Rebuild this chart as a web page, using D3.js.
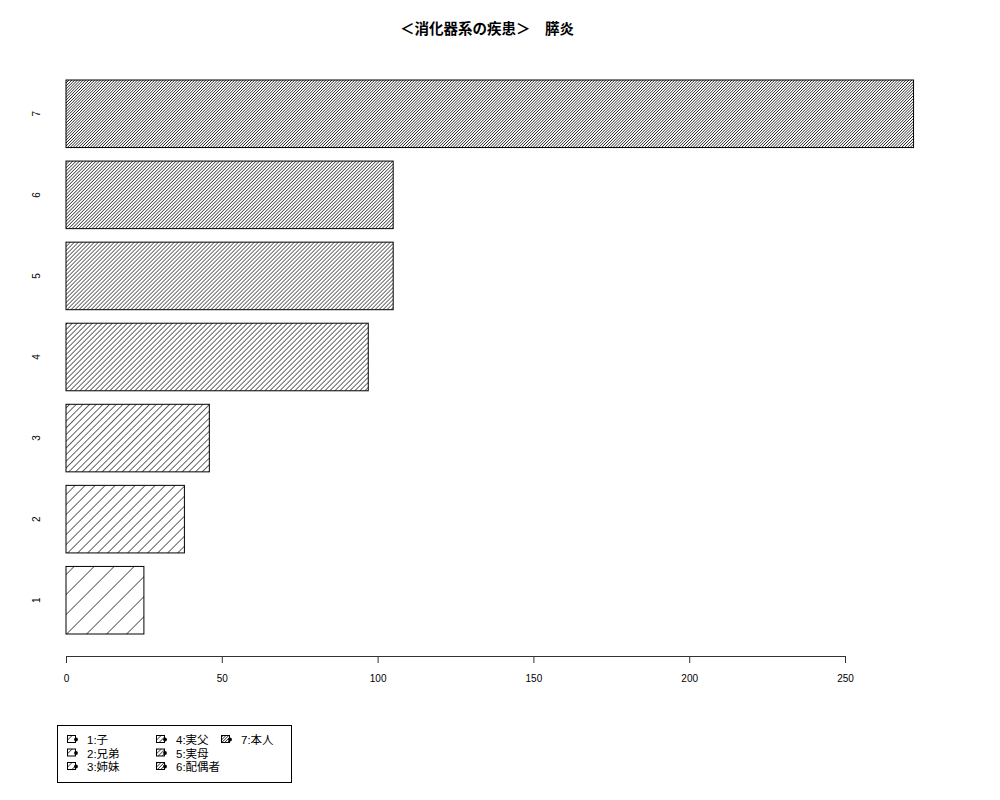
<!DOCTYPE html>
<html lang="ja">
  <head>
    <meta charset="utf-8">
    <script src="https://d3js.org/d3.v7.min.js"></script>
    <style>
      body { margin: 0; background: #fff; }
      .axis text { font: 10px "Liberation Sans", Arial, sans-serif; }
      .title { font: bold 14.5px "Noto Sans CJK JP", sans-serif; }
      .legend text { font: 11.5px "Liberation Sans", "Noto Sans CJK JP", sans-serif; }
    </style>
    <title></title>
  </head>
  <body>
    <svg id="chart" width="1000" height="800"></svg>
  </body>
</html>

<script>
    // data
    const categories = ["1", "2", "3", "4", "5", "6", "7"];
    const values = [25, 38, 46, 97, 105, 105, 272];
    const densities = [5, 10, 15, 20, 25, 30, 35];   // hatch lines per inch, as in R
    const legendLabels = ["1:子", "2:兄弟", "3:姉妹", "4:実父", "5:実母", "6:配偶者", "7:本人"];
    const xTicks = [0, 50, 100, 150, 200, 250];
    const titleText = "＜消化器系の疾患＞　膵炎";

    const svg = d3.select("#chart");

    const x = d3.scaleLinear().domain([0, 250]).range([66, 845]);
    const y = d3.scaleBand()
        .domain(categories.slice().reverse())
        .range([80, 634])
        .paddingInner(1 / 6)
        .paddingOuter(0);

    // hatch patterns, one per density
    const defs = svg.append("defs");
    densities.forEach((d, i) => {
        const p = 100 / d / Math.SQRT2;
        const pat = defs.append("pattern")
            .attr("id", "hatch" + i)
            .attr("patternUnits", "userSpaceOnUse")
            .attr("width", p)
            .attr("height", p)
            .attr("patternTransform", "rotate(45)");
        pat.append("line")
            .attr("x1", 0).attr("y1", -1)
            .attr("x2", 0).attr("y2", p + 1)
            .attr("stroke", "#000")
            .attr("stroke-width", 1.2);
    });

    // bars
    svg.append("g")
        .selectAll("rect")
        .data(categories)
        .enter().append("rect")
        .attr("x", x(0))
        .attr("y", d => y(d))
        .attr("width", (d, i) => x(values[i]) - x(0))
        .attr("height", y.bandwidth())
        .attr("fill", (d, i) => "url(#hatch" + i + ")")
        .attr("stroke", "#000")
        .attr("stroke-width", 1);

    // x axis
    const xAxis = svg.append("g")
        .attr("class", "axis")
        .attr("transform", "translate(0,656)")
        .call(d3.axisBottom(x).tickValues(xTicks).tickSize(7).tickPadding(12).tickFormat(d3.format("d")));
    xAxis.select(".domain").attr("stroke", "#333");
    xAxis.selectAll(".tick line").attr("stroke", "#333");
    xAxis.selectAll("text").attr("fill", "#000");

    // y labels (rotated, R style)
    svg.append("g")
        .attr("class", "axis")
        .selectAll("text")
        .data(categories)
        .enter().append("text")
        .attr("transform", d => "translate(40," + (y(d) + y.bandwidth() / 2) + ") rotate(-90)")
        .attr("text-anchor", "middle")
        .text(d => d);

    // title
    svg.append("text")
        .attr("class", "title")
        .attr("x", 487)
        .attr("y", 34)
        .attr("text-anchor", "middle")
        .text(titleText);

    // legend
    const legend = svg.append("g").attr("class", "legend");
    legend.append("rect")
        .attr("x", 57.5).attr("y", 725.5)
        .attr("width", 234).attr("height", 57)
        .attr("fill", "none").attr("stroke", "#000");

    const colX = [67, 156, 221];
    const rowY = [740, 753.5, 767];
    const item = legend.selectAll("g.item")
        .data(legendLabels)
        .enter().append("g")
        .attr("class", "item")
        .attr("transform", (d, i) => "translate(" + colX[Math.floor(i / 3)] + "," + rowY[i % 3] + ")");
    item.append("rect")
        .attr("x", 0.5).attr("y", -4.5)
        .attr("width", 8).attr("height", 7)
        .attr("fill", (d, i) => "url(#hatch" + i + ")")
        .attr("stroke", "#000");
    item.append("circle")
        .attr("cx", 9).attr("cy", -0.5)
        .attr("r", 1.9)
        .attr("fill", "#000");
    item.append("text")
        .attr("x", 20)
        .attr("y", 4)
        .text(d => d);
</script>
